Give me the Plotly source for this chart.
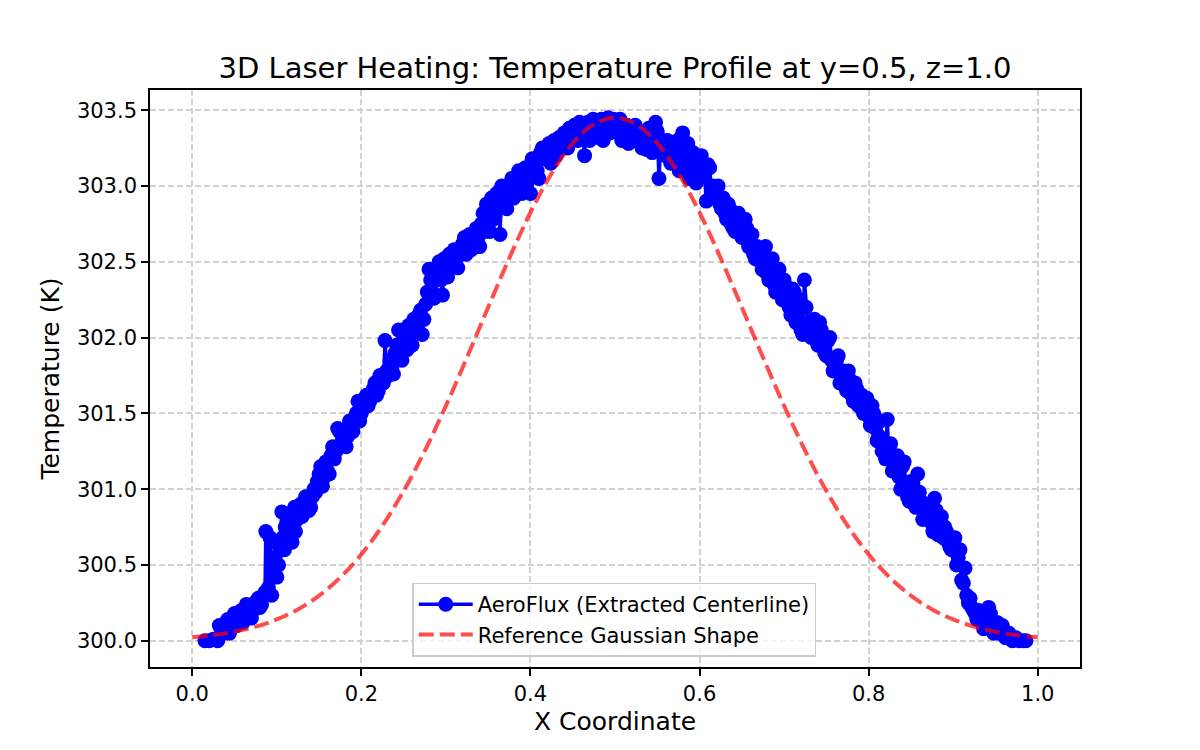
import plotly.graph_objects as go

# ---- data ----
# centerline samples (first pass along the curve)
x_sim = [0.015, 0.020, 0.025, 0.030, 0.032, 0.036, 0.040, 0.044, 0.048, 0.052,
         0.056, 0.060, 0.064, 0.068, 0.072, 0.076, 0.080, 0.084, 0.087, 0.090,
         0.092, 0.094, 0.096, 0.098, 0.100, 0.103, 0.106, 0.109, 0.112, 0.115,
         0.118, 0.121, 0.124, 0.128, 0.132, 0.136, 0.140, 0.144, 0.148, 0.152,
         0.156, 0.160, 0.164, 0.168, 0.172, 0.176, 0.180, 0.184, 0.188, 0.192,
         0.196, 0.200, 0.204, 0.208, 0.212, 0.216, 0.220, 0.224, 0.228, 0.232,
         0.236, 0.240, 0.244, 0.248, 0.252, 0.256, 0.260, 0.264, 0.268, 0.272,
         0.276, 0.280, 0.284, 0.288, 0.292, 0.296, 0.300, 0.304, 0.308, 0.312,
         0.316, 0.320, 0.324, 0.328, 0.332, 0.336, 0.340, 0.344, 0.348, 0.352,
         0.356, 0.360, 0.364, 0.368, 0.372, 0.376, 0.380, 0.384, 0.388, 0.392,
         0.396, 0.400, 0.404, 0.408, 0.412, 0.416, 0.420, 0.424, 0.428, 0.432,
         0.436, 0.440, 0.444, 0.448, 0.452, 0.456, 0.460, 0.464, 0.468, 0.472,
         0.476, 0.480, 0.484, 0.488, 0.492, 0.496, 0.500, 0.504, 0.508, 0.512,
         0.516, 0.520, 0.524, 0.528, 0.532, 0.536, 0.540, 0.544, 0.548, 0.552,
         0.556, 0.560, 0.564, 0.568, 0.572, 0.576, 0.580, 0.584, 0.588, 0.592,
         0.596, 0.600, 0.604, 0.608, 0.612, 0.616, 0.620, 0.624, 0.628, 0.632,
         0.636, 0.640, 0.644, 0.648, 0.652, 0.656, 0.660, 0.664, 0.668, 0.672,
         0.676, 0.680, 0.684, 0.688, 0.692, 0.696, 0.700, 0.704, 0.708, 0.712,
         0.716, 0.720, 0.724, 0.728, 0.732, 0.736, 0.740, 0.744, 0.748, 0.752,
         0.756, 0.760, 0.764, 0.768, 0.772, 0.776, 0.780, 0.784, 0.788, 0.792,
         0.796, 0.800, 0.804, 0.808, 0.812, 0.816, 0.820, 0.822, 0.826, 0.830,
         0.834, 0.838, 0.842, 0.846, 0.850, 0.854, 0.858, 0.862, 0.866, 0.870,
         0.874, 0.878, 0.882, 0.886, 0.890, 0.894, 0.898, 0.902, 0.906, 0.910,
         0.914, 0.918, 0.922, 0.926, 0.930, 0.934, 0.938, 0.942, 0.946, 0.950,
         0.954, 0.958, 0.962, 0.966, 0.970, 0.974, 0.978, 0.982, 0.986]

t_sim = [300.00, 300.00, 300.01, 300.00, 300.10, 300.06, 300.12, 300.05, 300.15, 300.10,
         300.17, 300.12, 300.24, 300.18, 300.20, 300.26, 300.22, 300.30, 300.72, 300.35,
         300.68, 300.30, 300.48, 300.55, 300.42, 300.62, 300.85, 300.60, 300.70, 300.82,
         300.65, 300.88, 300.80, 300.90, 300.85, 300.92, 300.88, 301.00, 301.05, 301.15,
         301.08, 301.12, 301.22, 301.20, 301.40, 301.30, 301.38, 301.35, 301.42, 301.45,
         301.58, 301.50, 301.60, 301.55, 301.62, 301.70, 301.65, 301.72, 301.98, 301.75,
         301.80, 301.90, 302.05, 301.85, 302.00, 302.08, 301.95, 302.10, 302.15, 302.02,
         302.22, 302.45, 302.30, 302.40, 302.50, 302.28, 302.45, 302.55, 302.48, 302.52,
         302.58, 302.62, 302.55, 302.68, 302.65, 302.72, 302.60, 302.82, 302.88, 302.70,
         302.78, 302.95, 302.68, 302.90, 302.85, 303.00, 302.92, 303.05, 303.00, 303.08,
         303.02, 302.95, 303.15, 303.10, 303.22, 303.18, 303.25, 303.15, 303.30, 303.22,
         303.28, 303.35, 303.25, 303.32, 303.40, 303.30, 303.38, 303.20, 303.42, 303.35,
         303.40, 303.32, 303.44, 303.38, 303.45, 303.40, 303.36, 303.42, 303.30, 303.38,
         303.28, 303.35, 303.40, 303.32, 303.25, 303.30, 303.38, 303.22, 303.42, 303.05,
         303.30, 303.20, 303.25, 303.18, 303.28, 303.10, 303.35, 303.15, 303.05, 303.22,
         303.02, 303.18, 303.10, 302.90, 303.12, 303.00, 302.95, 302.88, 302.92, 302.78,
         302.85, 302.72, 302.80, 302.75, 302.68, 302.72, 302.62, 302.55, 302.60, 302.50,
         302.55, 302.42, 302.48, 302.35, 302.40, 302.30, 302.38, 302.25, 302.15, 302.30,
         302.20, 302.05, 302.38, 302.10, 302.00, 302.12, 301.95, 302.05, 301.90, 301.98,
         301.85, 301.80, 301.88, 301.75, 301.68, 301.78, 301.62, 301.70, 301.55, 301.62,
         301.58, 301.48, 301.55, 301.40, 301.35, 301.25, 301.20, 301.46, 301.30, 301.15,
         301.22, 301.00, 301.18, 300.95, 301.05, 300.90, 301.10, 300.92, 300.85, 300.88,
         300.78, 300.94, 300.70, 300.82, 300.75, 300.65, 300.60, 300.68, 300.55, 300.40,
         300.48, 300.25, 300.22, 300.18, 300.20, 300.12, 300.15, 300.22, 300.10, 300.08,
         300.05, 300.10, 300.02, 300.05, 300.00, 300.02, 300.00, 300.00, 300.00]

# additional samples lying between the ones above (dense cloud in the reference)
x_sim_b = [0.034, 0.038, 0.042, 0.046, 0.050, 0.054, 0.058, 0.062, 0.066, 0.070,
           0.074, 0.078, 0.082, 0.086, 0.102, 0.107, 0.110, 0.114, 0.117, 0.122,
           0.126, 0.130, 0.134, 0.138, 0.142, 0.146, 0.150, 0.154, 0.158, 0.162,
           0.166, 0.170, 0.174, 0.178, 0.182, 0.186, 0.190, 0.194, 0.198, 0.202,
           0.206, 0.210, 0.214, 0.218, 0.222, 0.226, 0.230, 0.234, 0.238, 0.242,
           0.246, 0.250, 0.254, 0.258, 0.262, 0.266, 0.270, 0.274, 0.278, 0.282,
           0.286, 0.290, 0.294, 0.298, 0.302, 0.306, 0.310, 0.314, 0.318, 0.322,
           0.326, 0.330, 0.334, 0.338, 0.342, 0.346, 0.350, 0.354, 0.358, 0.362,
           0.366, 0.370, 0.374, 0.378, 0.382, 0.386, 0.390, 0.394, 0.398, 0.402,
           0.406, 0.410, 0.414, 0.418, 0.422, 0.426, 0.430, 0.434, 0.438, 0.442,
           0.446, 0.450, 0.454, 0.458, 0.462, 0.466, 0.470, 0.474, 0.478, 0.482,
           0.486, 0.490, 0.494, 0.498, 0.502, 0.506, 0.510, 0.514, 0.518, 0.522,
           0.526, 0.530, 0.534, 0.538, 0.542, 0.546, 0.550, 0.554, 0.558, 0.562,
           0.566, 0.570, 0.574, 0.578, 0.582, 0.586, 0.590, 0.594, 0.598, 0.602,
           0.606, 0.610, 0.614, 0.618, 0.622, 0.626, 0.630, 0.634, 0.638, 0.642,
           0.646, 0.650, 0.654, 0.658, 0.662, 0.666, 0.670, 0.674, 0.678, 0.682,
           0.686, 0.690, 0.694, 0.698, 0.702, 0.706, 0.710, 0.714, 0.718, 0.722,
           0.726, 0.730, 0.734, 0.738, 0.742, 0.746, 0.750, 0.754, 0.758, 0.762,
           0.766, 0.770, 0.774, 0.778, 0.782, 0.786, 0.790, 0.794, 0.798, 0.802,
           0.806, 0.810, 0.814, 0.818, 0.824, 0.828, 0.832, 0.836, 0.840, 0.844,
           0.848, 0.852, 0.856, 0.860, 0.864, 0.868, 0.872, 0.876, 0.880, 0.884,
           0.888, 0.892, 0.896, 0.900, 0.904, 0.908, 0.912, 0.916, 0.920, 0.924,
           0.928, 0.932, 0.936, 0.940, 0.944, 0.948, 0.952, 0.956, 0.960]

t_sim_b = [300.04, 300.10, 300.14, 300.08, 300.18, 300.13, 300.20, 300.16, 300.22, 300.15,
           300.25, 300.28, 300.24, 300.32, 300.50, 300.68, 300.75, 300.66, 300.80, 300.72,
           300.86, 300.82, 300.95, 300.86, 300.95, 300.98, 301.10, 301.02, 301.18, 301.10,
           301.28, 301.25, 301.38, 301.32, 301.28, 301.45, 301.38, 301.50, 301.45, 301.56,
           301.62, 301.58, 301.66, 301.62, 301.75, 301.70, 301.78, 301.85, 301.76, 301.95,
           301.92, 302.05, 301.92, 302.02, 302.12, 302.05, 302.18, 302.12, 302.30, 302.38,
           302.26, 302.44, 302.38, 302.52, 302.40, 302.50, 302.58, 302.46, 302.55, 302.66,
           302.60, 302.58, 302.68, 302.66, 302.75, 302.70, 302.85, 302.92, 302.80, 302.88,
           303.00, 302.92, 302.95, 303.05, 302.98, 303.10, 302.95, 303.12, 303.05, 303.18,
           303.12, 303.05, 303.25, 303.20, 303.28, 303.22, 303.20, 303.32, 303.26, 303.30,
           303.38, 303.34, 303.36, 303.42, 303.32, 303.38, 303.30, 303.44, 303.38, 303.40,
           303.30, 303.42, 303.35, 303.44, 303.38, 303.44, 303.34, 303.40, 303.32, 303.30,
           303.36, 303.28, 303.34, 303.24, 303.32, 303.28, 303.36, 303.25, 303.22, 303.30,
           303.15, 303.22, 303.30, 303.12, 303.20, 303.28, 303.08, 303.15, 303.05, 303.20,
           303.06, 303.14, 302.96, 302.92, 303.00, 302.85, 302.82, 302.88, 302.74, 302.70,
           302.82, 302.66, 302.78, 302.60, 302.68, 302.52, 302.58, 302.45, 302.60, 302.38,
           302.52, 302.30, 302.45, 302.25, 302.34, 302.20, 302.32, 302.10, 302.25, 302.02,
           302.20, 302.05, 302.06, 301.98, 302.10, 301.95, 301.88, 302.00, 301.78, 301.85,
           301.70, 301.78, 301.65, 301.72, 301.58, 301.66, 301.62, 301.50, 301.60, 301.42,
           301.50, 301.32, 301.45, 301.28, 301.22, 301.12, 301.20, 301.08, 301.15, 301.02,
           300.92, 301.00, 300.88, 300.98, 300.80, 300.90, 300.82, 300.72, 300.86, 300.76,
           300.68, 300.72, 300.62, 300.66, 300.50, 300.60, 300.38, 300.30, 300.28, 300.20,
           300.14, 300.18, 300.08, 300.12, 300.18, 300.05, 300.12, 300.06, 300.04]

x_ref = [0.000, 0.025, 0.050, 0.075, 0.100, 0.125, 0.150, 0.175, 0.200, 0.225,
         0.250, 0.275, 0.300, 0.325, 0.350, 0.375, 0.400, 0.425, 0.450, 0.475,
         0.500, 0.525, 0.550, 0.575, 0.600, 0.625, 0.650, 0.675, 0.700, 0.725,
         0.750, 0.775, 0.800, 0.825, 0.850, 0.875, 0.900, 0.925, 0.950, 0.975,
         1.000]
t_ref = [300.023, 300.038, 300.060, 300.093, 300.141, 300.207, 300.298, 300.417, 300.570, 300.760,
         300.988, 301.253, 301.550, 301.870, 302.200, 302.524, 302.825, 303.083, 303.282, 303.407,
         303.450, 303.407, 303.282, 303.083, 302.825, 302.524, 302.200, 301.870, 301.550, 301.253,
         300.988, 300.760, 300.570, 300.417, 300.298, 300.207, 300.141, 300.093, 300.060, 300.038,
         300.023]

x_ticks = [0.0, 0.2, 0.4, 0.6, 0.8, 1.0]
y_ticks = [300.0, 300.5, 301.0, 301.5, 302.0, 302.5, 303.0, 303.5]

title_text = "3D Laser Heating: Temperature Profile at y=0.5, z=1.0"
sim_name = "AeroFlux (Extracted Centerline)"
ref_name = "Reference Gaussian Shape"

FONT = "DejaVu Sans"

# merge the two sample sets, ordered along x (the line joins them in x order)
pairs = sorted(zip(x_sim + x_sim_b, t_sim + t_sim_b))
x_all = [p[0] for p in pairs]
t_all = [p[1] for p in pairs]

fig = go.Figure()
fig.add_trace(go.Scatter(
    x=x_all, y=t_all, mode="lines+markers", name=sim_name,
    line=dict(color="#0000ff", width=3.5),
    marker=dict(color="#0000ff", size=15, line=dict(width=0)),
))
fig.add_trace(go.Scatter(
    x=x_ref, y=t_ref, mode="lines", name=ref_name,
    line=dict(color="rgba(255,0,0,0.7)", width=4, dash="15px,6px", shape="spline"),
))

axis_common = dict(
    showline=True, linecolor="black", linewidth=1.6, mirror=True,
    ticks="outside", ticklen=7, tickwidth=1.6, tickcolor="black",
    showgrid=True, gridcolor="#d2d2d2", gridwidth=1.5, griddash="6px,3px",
    zeroline=False, tickfont=dict(family=FONT, size=21, color="black"),
)

fig.update_xaxes(
    range=[-0.05, 1.05], tickvals=x_ticks, tickformat=".1f",
    title=dict(text="X Coordinate", font=dict(family=FONT, size=25, color="black"), standoff=7),
    **axis_common,
)
fig.update_yaxes(
    range=[299.827, 303.633], tickvals=y_ticks, tickformat=".1f",
    title=dict(text="Temperature (K)", font=dict(family=FONT, size=25, color="black"), standoff=10),
    **axis_common,
)

fig.update_layout(
    width=1200, height=750,
    margin=dict(l=150, r=120, t=90, b=83),
    paper_bgcolor="white", plot_bgcolor="white",
    font=dict(family=FONT, color="black"),
    title=dict(text=title_text, x=0.5, xref="paper", xanchor="center",
               y=1 - 68 / 750, yref="container", yanchor="middle",
               font=dict(family=FONT, size=29, color="black")),
    showlegend=True,
    legend=dict(x=0.282, y=0.018, xref="paper", yref="paper",
                xanchor="left", yanchor="bottom",
                bgcolor="rgba(255,255,255,0.8)", bordercolor="#cccccc", borderwidth=1.5,
                font=dict(family=FONT, size=21, color="black"),
                itemwidth=54, tracegroupgap=0),
)

fig.write_html("out.html")
